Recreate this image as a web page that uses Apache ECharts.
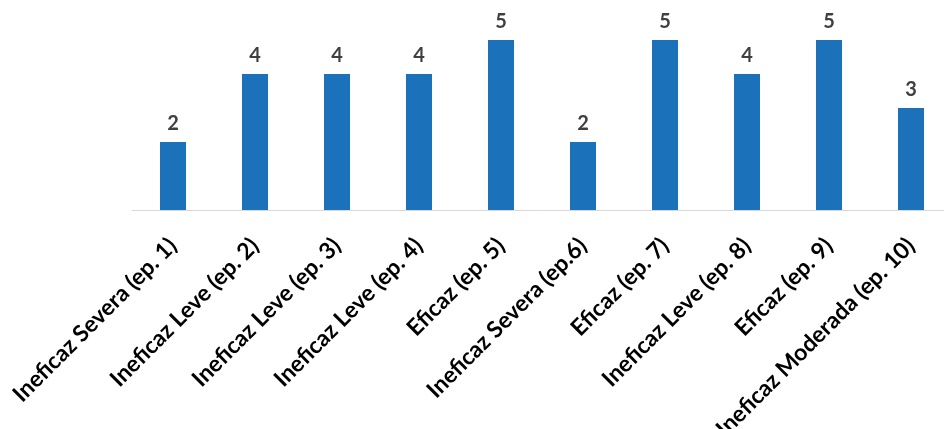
<!DOCTYPE html>
<html>
<head>
<meta charset="utf-8">
<script src="https://cdn.jsdelivr.net/npm/echarts@6/dist/echarts.min.js"></script>
<style>
  html, body { margin: 0; padding: 0; background: #fff; }
  #chart { width: 944px; height: 429px; }
</style>
</head>
<body>
<div id="chart"></div>
<script>
// categorias (episódios) e valores
var categorias = [
  'Ineficaz Severa (ep. 1)',
  'Ineficaz Leve (ep. 2)',
  'Ineficaz Leve (ep. 3)',
  'Ineficaz Leve (ep. 4)',
  'Eficaz (ep. 5)',
  'Ineficaz Severa (ep.6)',
  'Eficaz (ep. 7)',
  'Ineficaz Leve (ep. 8)',
  'Eficaz (ep. 9)',
  'Ineficaz Moderada (ep. 10)'
];
var valores = [2, 4, 4, 4, 5, 2, 5, 4, 5, 3];

var chart = echarts.init(document.getElementById('chart'));

var option = {
  animation: false,
  grid: {
    left: 132,
    right: -8,
    top: 40,
    bottom: 219,
    containLabel: false,
    outerBoundsMode: 'none'
  },
  xAxis: {
    type: 'category',
    data: categorias,
    axisLine: { lineStyle: { color: '#d9d9d9', width: 1 } },
    axisTick: { show: false },
    axisLabel: {
      rotate: 45,
      interval: 0,
      margin: 32,
      color: '#000',
      fontFamily: 'Lato',
      fontWeight: 'bold',
      fontSize: 23
    }
  },
  yAxis: {
    type: 'value',
    min: 0,
    max: 5,
    show: false
  },
  series: [{
    type: 'bar',
    data: valores,
    barWidth: 26,
    itemStyle: { color: '#1b71ba' },
    label: {
      show: true,
      position: 'top',
      distance: 8,
      color: '#404040',
      fontFamily: 'Lato',
      fontWeight: 'bold',
      fontSize: 20
    }
  }]
};

chart.setOption(option);
</script>
</body>
</html>
